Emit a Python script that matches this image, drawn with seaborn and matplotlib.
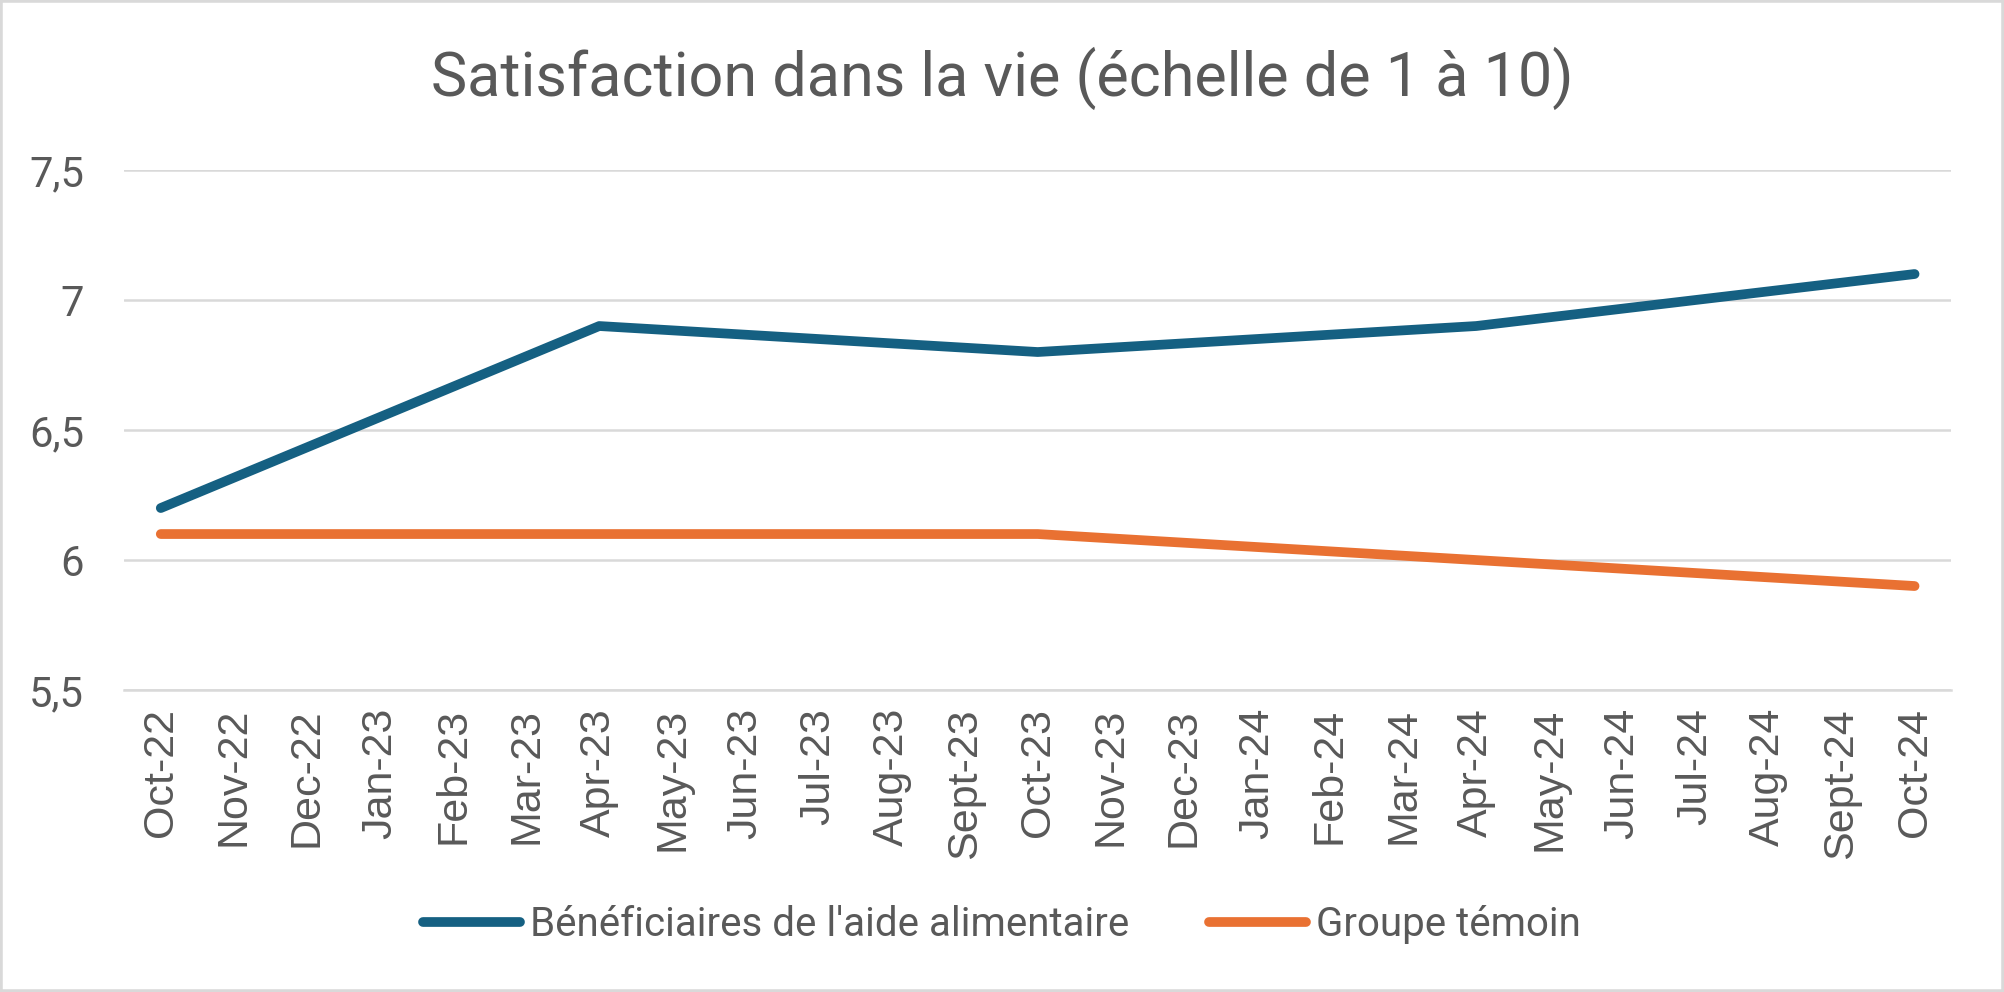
import matplotlib
matplotlib.use("Agg")
import matplotlib.pyplot as plt
import matplotlib.patches as mpatches
import seaborn as sns
import pandas as pd
import numpy as np

# Data ===================================================================================================
months = ['Oct-22', 'Nov-22', 'Dec-22', 'Jan-23', 'Feb-23', 'Mar-23', 'Apr-23', 'May-23', 'Jun-23',
          'Jul-23', 'Aug-23', 'Sept-23', 'Oct-23', 'Nov-23', 'Dec-23', 'Jan-24', 'Feb-24', 'Mar-24',
          'Apr-24', 'May-24', 'Jun-24', 'Jul-24', 'Aug-24', 'Sept-24', 'Oct-24']
survey_months = ['Oct-22', 'Apr-23', 'Oct-23', 'Apr-24', 'Oct-24']
beneficiaires = [6.2, 6.9, 6.8, 6.9, 7.1]
temoin = [6.1, 6.1, 6.1, 6.0, 5.9]
series_names = ["Bénéficiaires de l'aide alimentaire", "Groupe témoin"]
y_ticks = [5.5, 6.0, 6.5, 7.0, 7.5]
y_tick_labels = ['5,5', '6', '6,5', '7', '7,5']
title = "Satisfaction dans la vie (échelle de 1 à 10)"

# long table, x = position of the month on the category axis
pos = [months.index(m) for m in survey_months]
df = pd.DataFrame({
    'pos': pos * 2,
    'value': beneficiaires + temoin,
    'group': [series_names[0]] * len(pos) + [series_names[1]] * len(pos),
})

colors = {series_names[0]: "#156082", series_names[1]: "#E97132"}
text_col = "#595959"
grid_col = "#D9D9D9"

# Style ==================================================================================================
sns.set_theme(style="white")
plt.rcParams['font.family'] = ['Roboto', 'DejaVu Sans']

fig = plt.figure(figsize=(20.04, 9.92), dpi=100)
ax = fig.add_axes([0.062, 0.3044, 0.9116, 0.5242])

sns.lineplot(data=df, x='pos', y='value', hue='group', palette=colors, linewidth=7,
             ax=ax, legend=False, solid_capstyle='round', solid_joinstyle='round', zorder=3)

ax.set_xlim(-0.5, len(months) - 0.5)
ax.set_ylim(5.5, 7.5)
ax.set_yticks(y_ticks)
ax.set_yticklabels(y_tick_labels)
ax.set_xticks(range(len(months)))
ax.set_xticklabels(months, rotation=90, family=['Liberation Sans', 'DejaVu Sans'], fontsize=31)
ax.set_xticks(np.arange(-0.5, len(months), 1.0), minor=True)

ax.tick_params(axis='y', length=0, pad=29, labelsize=30, labelcolor=text_col)
ax.tick_params(axis='x', which='major', length=0, pad=13, labelcolor=text_col)
ax.tick_params(axis='x', which='minor', length=9.5, width=1.8, color=grid_col, direction='out')

ax.set_xlabel("")
ax.set_ylabel("")

sns.despine(ax=ax, left=True, right=True, top=True)
ax.spines['bottom'].set_color(grid_col)
ax.spines['bottom'].set_linewidth(1.8)
ax.grid(axis='y', color=grid_col, linewidth=1.8, zorder=0)
ax.grid(axis='x', visible=False)

fig.text(0.5, 0.921, title, ha='center', va='center', fontsize=44, color=text_col)

handles = ax.get_lines()[:2]
leg = fig.legend(handles, series_names, loc='center', bbox_to_anchor=(0.5, 0.068), ncol=2,
                 frameon=False, fontsize=29, handlelength=2.4, handletextpad=0.25,
                 columnspacing=2.0, labelcolor=text_col)

# outer chart border
fig.add_artist(mpatches.Rectangle((0, 0), 1, 1, transform=fig.transFigure, fill=False,
                                  edgecolor=grid_col, linewidth=4))

plt.savefig("out.png", dpi=100)
